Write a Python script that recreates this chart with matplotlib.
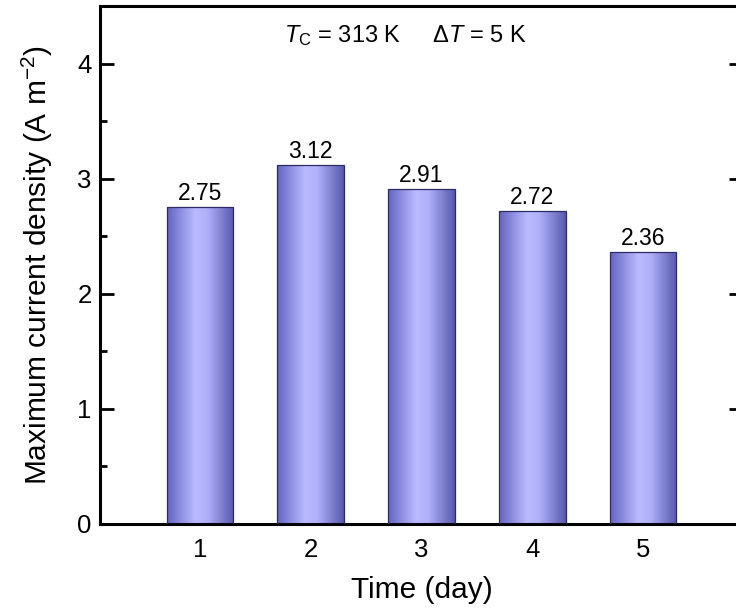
import numpy as np
import matplotlib
matplotlib.use("Agg")
import matplotlib.pyplot as plt
from matplotlib.colors import LinearSegmentedColormap
from matplotlib.ticker import MultipleLocator

plt.rcParams['font.family'] = ['Liberation Sans', 'DejaVu Sans']
plt.rcParams['mathtext.fontset'] = 'custom'
plt.rcParams['mathtext.rm'] = 'Liberation Sans'
plt.rcParams['mathtext.it'] = 'Liberation Sans:italic'

days = [1, 2, 3, 4, 5]
current_density = [2.75, 3.12, 2.91, 2.72, 2.36]
value_labels = ["2.75", "3.12", "2.91", "2.72", "2.36"]

fig = plt.figure(figsize=(7.36, 6.12), dpi=100)
ax = fig.add_axes([0.1359, 0.1438, 0.8736, 0.8464])

bar_cmap = LinearSegmentedColormap.from_list(
    "barshade",
    [(0.0, "#6464c2"), (0.42, "#babaff"), (0.6, "#b0b0fa"), (1.0, "#5858ae")],
)
grad = np.linspace(0, 1, 256).reshape(1, -1)

bars = ax.bar(days, current_density, width=0.6, color="none",
              edgecolor="#2b2b66", linewidth=0.9, zorder=3)
for rect in bars:
    x0, y0 = rect.get_x(), rect.get_y()
    w, h = rect.get_width(), rect.get_height()
    im = ax.imshow(grad, cmap=bar_cmap, aspect="auto",
                   extent=(x0, x0 + w, y0, y0 + h), zorder=2,
                   interpolation="bilinear")
    im.set_clip_path(rect)

for d, v, s in zip(days, current_density, value_labels):
    ax.text(d, v + 0.02, s, ha="center", va="bottom", fontsize=16.5)

ax.set_xlim(0.1, 5.9)
ax.set_ylim(0, 4.5)
ax.set_xticks(days)
ax.yaxis.set_major_locator(MultipleLocator(1))
ax.yaxis.set_minor_locator(MultipleLocator(0.5))
ax.tick_params(axis="y", which="major", direction="in", length=10, width=2,
               labelsize=18.5, right=True, pad=6)
ax.tick_params(axis="y", which="minor", direction="in", length=5, width=2,
               right=True)
ax.tick_params(axis="x", which="both", length=0, labelsize=18.5, pad=10)
for sp in ax.spines.values():
    sp.set_linewidth(2.2)

ax.set_xlabel("Time (day)", fontsize=21.5, labelpad=10)
ax.set_ylabel("Maximum current density (A m$^{-2}$)", fontsize=21.5, labelpad=16)

ax.text(0.475, 0.943, r"$T_\mathrm{C}$ = 313 K     Δ$T$ = 5 K",
        transform=ax.transAxes, ha="center", va="center", fontsize=17)

fig.savefig("out.png", dpi=100)
